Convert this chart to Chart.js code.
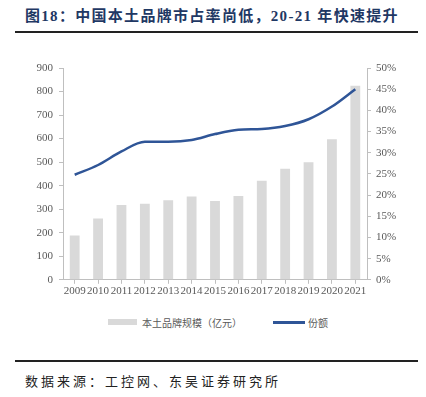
<!DOCTYPE html>
<html>
<head>
<meta charset="utf-8">
<script src="https://cdn.jsdelivr.net/npm/chart.js@4"></script>
<style>
  body { margin: 0; width: 426px; height: 397px; background: #fff; position: relative; overflow: hidden; }
  .title { position: absolute; left: 25px; top: 4px; font: bold 15px "Liberation Serif", "Noto Sans CJK SC", serif; color: #1f3864; letter-spacing: 1.3px; }
  .rule { position: absolute; left: 15px; width: 403px; height: 2px; background: #222; }
  .source { position: absolute; left: 25px; top: 371px; font: 13px "Noto Sans CJK SC", serif; color: #222; letter-spacing: 3px; }
  #wrap { position: absolute; left: 0; top: 40px; width: 426px; height: 259px; }
  .legend { position: absolute; top: 313px; font: 10px "Noto Sans CJK SC", serif; color: #595959; }
  .legend span { display: inline-block; vertical-align: middle; }
</style>
</head>
<body>
<div class="title">图18：中国本土品牌市占率尚低，20-21 年快速提升</div>
<div class="rule" style="top:31px"></div>
<div id="wrap"><canvas id="chart"></canvas></div>
<div class="legend" style="left:108px"><span style="width:29px;height:6px;background:#d9d9d9;margin-right:5px"></span><span>本土品牌规模（亿元）</span></div>
<div class="legend" style="left:273px"><span style="width:32px;height:3px;background:#2f5597;margin-right:3px"></span><span>份额</span></div>
<div class="rule" style="top:360px"></div>
<div class="source">数据来源：工控网、东吴证券研究所</div>
<script>
  // Data
  const years = ['2009', '2010', '2011', '2012', '2013', '2014', '2015', '2016', '2017', '2018', '2019', '2020', '2021'];
  const scaleValues = [188, 260, 318, 323, 338, 354, 335, 356, 421, 472, 499, 597, 825];
  const shareValues = [24.8, 27.1, 30.3, 32.6, 32.6, 33.0, 34.4, 35.4, 35.6, 36.3, 37.9, 40.9, 45.0];

  const tickFont = { family: '"Liberation Serif", "Times New Roman", serif', size: 11 };
  const axisColor = '#bfbfbf';

  new Chart(document.getElementById('chart'), {
    data: {
      labels: years,
      datasets: [
        {
          type: 'line',
          label: '份额',
          data: shareValues,
          yAxisID: 'y2',
          borderColor: '#2f5597',
          borderWidth: 2.5,
          pointRadius: 0,
          cubicInterpolationMode: 'monotone',
          order: 0
        },
        {
          type: 'bar',
          label: '本土品牌规模（亿元）',
          data: scaleValues,
          yAxisID: 'y',
          backgroundColor: '#d9d9d9',
          barPercentage: 0.42,
          categoryPercentage: 1,
          order: 1
        }
      ]
    },
    options: {
      responsive: true,
      maintainAspectRatio: false,
      animation: false,
      layout: { padding: { left: 0, right: 0, top: 28, bottom: 0 } },
      plugins: { legend: { display: false }, tooltip: { enabled: false } },
      scales: {
        x: {
          offset: true,
          grid: { display: true, drawOnChartArea: false, offset: false, tickLength: 4, color: axisColor },
          border: { color: axisColor },
          ticks: { color: '#595959', font: tickFont, padding: 1, maxRotation: 0, autoSkip: false }
        },
        y: {
          position: 'left',
          min: 0, max: 900,
          ticks: { stepSize: 100, color: '#595959', font: tickFont, padding: 6 },
          grid: { drawOnChartArea: false, tickLength: 4, color: axisColor },
          border: { color: axisColor },
          afterFit: s => { s.width = 63; }
        },
        y2: {
          position: 'right',
          min: 0, max: 50,
          ticks: { stepSize: 5, color: '#595959', font: tickFont, padding: 5, callback: v => v + '%' },
          grid: { drawOnChartArea: false, tickLength: 4, color: axisColor },
          border: { color: axisColor },
          afterFit: s => { s.width = 59; }
        }
      }
    }
  });
</script>
</body>
</html>
